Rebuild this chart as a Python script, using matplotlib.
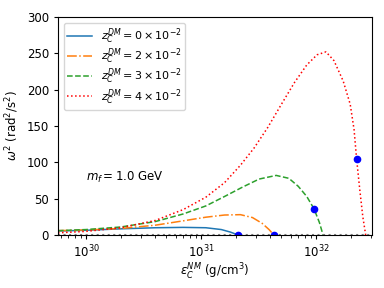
import numpy as np
import matplotlib.pyplot as plt

# central density (g/cm^3) and omega^2 (rad^2/s^2)
eps_z0 = [5.7e29, 1.0e30, 2.0e30, 4.0e30, 7.0e30, 1.1e31, 1.5e31, 1.8e31, 2.1e31]
w2_z0 = [5.5, 6.5, 8.5, 10.0, 10.5, 10.0, 7.5, 4.0, 0.0]

eps_z2 = [5.7e29, 1.0e30, 2.0e30, 4.0e30, 7.0e30, 1.1e31, 1.6e31, 2.2e31, 2.8e31, 3.4e31, 3.9e31, 4.3e31]
w2_z2 = [6.0, 7.0, 9.0, 13.5, 19.5, 24.5, 27.5, 28.0, 24.0, 16.0, 7.5, 0.0]

eps_z3 = [5.7e29, 1.0e30, 2.0e30, 4.0e30, 7.0e30, 1.1e31, 1.6e31, 2.3e31, 3.2e31, 4.5e31, 5.8e31, 7.0e31, 8.3e31, 9.6e31, 1.07e32, 1.15e32]
w2_z3 = [6.0, 7.5, 11.0, 18.5, 29.0, 40.0, 53.0, 66.0, 77.0, 82.0, 78.0, 67.0, 53.0, 36.0, 17.0, 0.0]

eps_z4 = [5.7e29, 1.0e30, 2.0e30, 4.0e30, 7.0e30, 1.1e31, 1.6e31, 2.2e31, 2.9e31, 3.8e31, 5.0e31, 6.5e31, 8.3e31, 1.02e32, 1.22e32, 1.43e32, 1.72e32, 1.98e32, 2.14e32, 2.25e32, 2.4e32, 2.55e32, 2.7e32]
w2_z4 = [3.0, 5.0, 10.0, 20.0, 35.0, 52.0, 72.0, 96.0, 120.0, 148.0, 180.0, 210.0, 234.0, 248.0, 252.0, 240.0, 212.0, 180.0, 145.0, 105.0, 62.0, 25.0, 0.0]

# maximum-mass markers
eps_max = [2.1e31, 4.3e31, 9.6e31, 2.25e32]
w2_max = [0.0, 0.0, 36.0, 105.0]

fig = plt.figure(figsize=(3.84, 2.88), dpi=100)
ax = fig.add_axes([0.151, 0.184, 0.818, 0.757])

ax.plot(eps_z0, w2_z0, '-', color='tab:blue', lw=1.1, label=r'$z_C^{DM} = 0\times10^{-2}$')
ax.plot(eps_z2, w2_z2, '-.', color='tab:orange', lw=1.1, label=r'$z_C^{DM} = 2\times10^{-2}$')
ax.plot(eps_z3, w2_z3, '--', color='tab:green', lw=1.1, label=r'$z_C^{DM} = 3\times10^{-2}$')
ax.plot(eps_z4, w2_z4, ':', color='red', lw=1.1, label=r'$z_C^{DM} = 4\times10^{-2}$')
ax.axhline(0, color='gray', ls=':', lw=1.5)
ax.plot(eps_max, w2_max, 'o', color='blue', ms=4.5)

ax.set_xscale('log')
ax.set_xlim(5.7e29, 3.07e32)
ax.set_ylim(0, 300)
ax.tick_params(labelsize=8.5, length=3)
ax.tick_params(which='minor', length=2)
ax.set_xlabel(r'$\varepsilon_C^{NM}$ (g/cm$^3$)', fontsize=8.5, labelpad=1)
ax.set_ylabel(r'$\omega^2$ (rad$^2$/s$^2$)', fontsize=8.5, labelpad=4)
ax.text(0.09, 0.25, r'$m_f = 1.0$ GeV', transform=ax.transAxes, fontsize=8.5)
ax.legend(loc='upper left', fontsize=8, handlelength=2.2, labelspacing=0.05,
          borderpad=0.35)

fig.savefig('out.png', dpi=100)
